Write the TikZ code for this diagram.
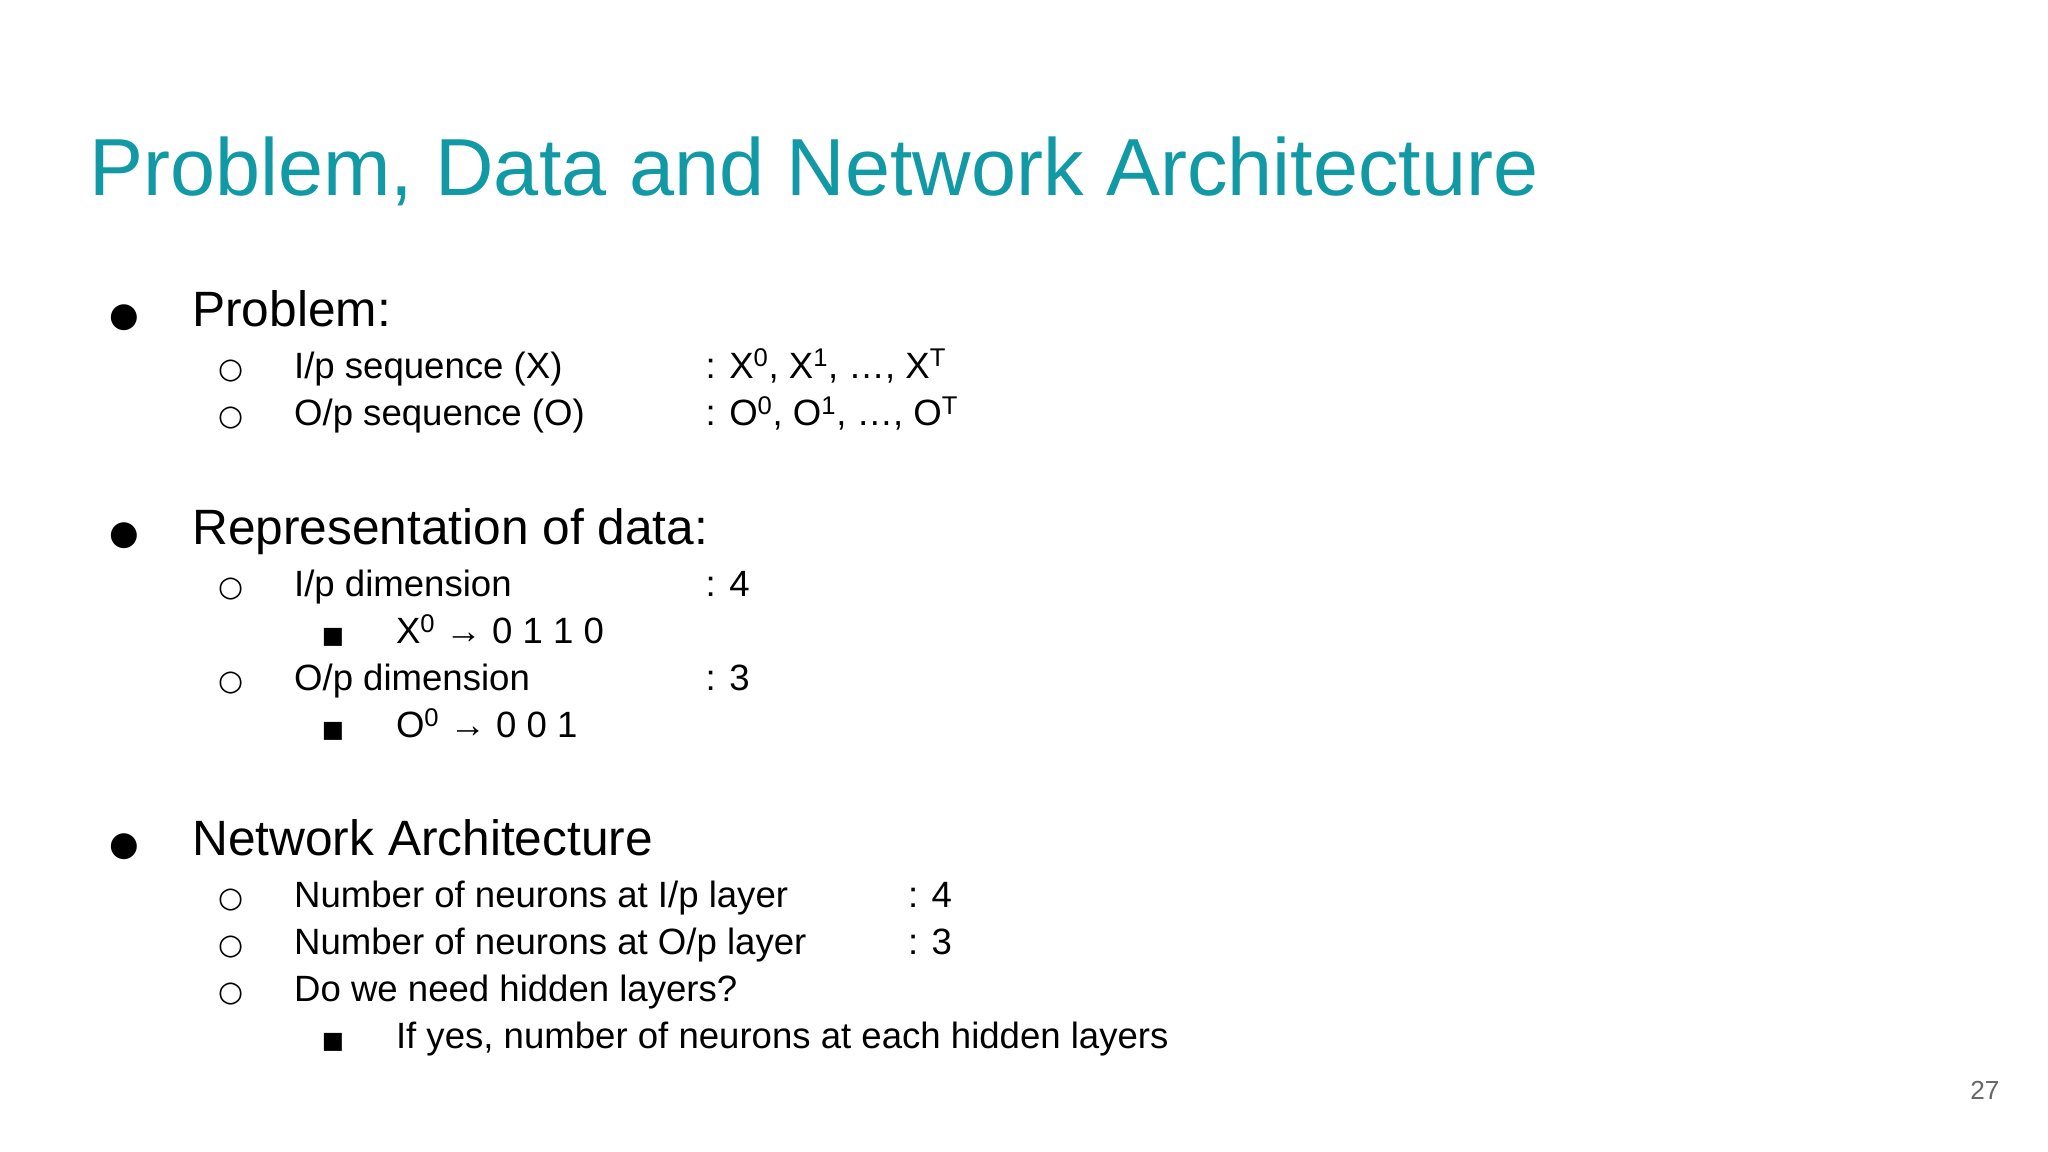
\documentclass[tikz,border=0pt]{standalone}
\usepackage{fontspec}
\setmainfont{Liberation Sans}
\newfontfamily\bulfont{DejaVu Sans}
\definecolor{teal1}{HTML}{1199A5}
\begin{document}
\begin{tikzpicture}[x=1pt,y=-1pt,
  t/.style={anchor=base west,inner sep=0pt,font=\fontsize{38}{40}\selectfont},
  s/.style={anchor=base west,inner sep=0pt,font=\fontsize{28}{30}\selectfont},
  b1/.style={anchor=base,inner sep=0pt,font=\bulfont\fontsize{26}{28}\selectfont},
  b2/.style={anchor=base,inner sep=0pt,font=\bulfont\fontsize{22}{24}\selectfont},
  b3/.style={anchor=base,inner sep=0pt,font=\bulfont\fontsize{18}{20}\selectfont}]
\useasboundingbox (0,0) rectangle (1568,882);
\fill[white] (0,0) rectangle (1568,882);
\node[anchor=base west,inner sep=0pt,text=teal1,font=\fontsize{62}{64}\selectfont] (title) at (68,150) {Problem, Data and Network Architecture};
% Problem
\node[b1] (bp) at (95,250) {●}; \node[t] (p) at (147,250) {Problem:};
\node[b2] (bp1) at (177,290) {○}; \node[s] (p1) at (225,290) {I/p sequence (X)};
\node[s] (p1v) at (540,290) {: X\textsuperscript{0}, X\textsuperscript{1}, …, X\textsuperscript{T}};
\node[b2] (bp2) at (177,326) {○}; \node[s] (p2) at (225,326) {O/p sequence (O)};
\node[s] (p2v) at (540,326) {: O\textsuperscript{0}, O\textsuperscript{1}, …, O\textsuperscript{T}};
% Representation
\node[b1] (br) at (95,417) {●}; \node[t] (r) at (147,417) {Representation of data:};
\node[b2] (br1) at (177,457) {○}; \node[s] (r1) at (225,457) {I/p dimension};
\node[s] (r1v) at (540,457) {: 4};
\node[b3] (br1a) at (255,493) {■}; \node[s] (r1a) at (303,493) {X\textsuperscript{0} → 0 1 1 0};
\node[b2] (br2) at (177,529) {○}; \node[s] (r2) at (225,529) {O/p dimension};
\node[s] (r2v) at (540,529) {: 3};
\node[b3] (br2a) at (255,565) {■}; \node[s] (r2a) at (303,565) {O\textsuperscript{0} → 0 0 1};
% Network
\node[b1] (bn) at (95,655) {●}; \node[t] (n) at (147,655) {Network Architecture};
\node[b2] (bn1) at (177,695) {○}; \node[s] (n1) at (225,695) {Number of neurons at I/p layer};
\node[s] (n1v) at (695,695) {: 4};
\node[b2] (bn2) at (177,731) {○}; \node[s] (n2) at (225,731) {Number of neurons at O/p layer};
\node[s] (n2v) at (695,731) {: 3};
\node[b2] (bn3) at (177,767) {○}; \node[s] (n3) at (225,767) {Do we need hidden layers?};
\node[b3] (bn3a) at (255,803) {■}; \node[s] (n3a) at (303,803) {If yes, number of neurons at each hidden layers};
\node[anchor=base east,inner sep=0pt,text=black!60,font=\fontsize{20}{22}\selectfont] (pg) at (1531,842) {27};
\end{tikzpicture}
\end{document}
